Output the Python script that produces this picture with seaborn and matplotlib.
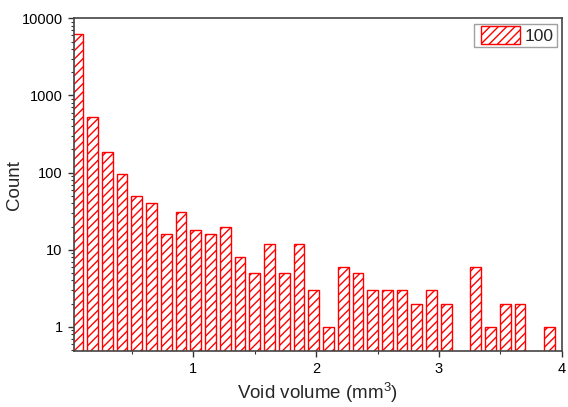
import matplotlib
matplotlib.use("Agg")
import matplotlib.pyplot as plt
import matplotlib.ticker as mticker
from matplotlib.legend_handler import HandlerPatch
from matplotlib.patches import Rectangle
import seaborn as sns
import pandas as pd

# Bin centres (mm^3) and counts
bin_centers = [0.06, 0.18, 0.30, 0.42, 0.54, 0.66, 0.78, 0.90, 1.02, 1.14,
               1.26, 1.38, 1.50, 1.62, 1.74, 1.86, 1.98, 2.10, 2.22, 2.34,
               2.46, 2.58, 2.70, 2.82, 2.94, 3.06, 3.30, 3.42, 3.54, 3.66,
               3.90]
counts = [6200, 530, 185, 95, 50, 40, 16, 31, 18, 16,
          20, 8, 5, 12, 5, 12, 3, 1, 6, 5,
          3, 3, 3, 2, 3, 2, 6, 1, 2, 2,
          1]
series_label = "100"
x_label = "Void volume (mm$^3$)"
y_label = "Count"

df = pd.DataFrame({"volume": bin_centers, "count": counts})

sns.set_style("ticks")
plt.rcParams["font.family"] = ["Liberation Sans", "DejaVu Sans"]
plt.rcParams["mathtext.fontset"] = "custom"
plt.rcParams["mathtext.rm"] = "Liberation Sans"
plt.rcParams["hatch.linewidth"] = 1.0

fig = plt.figure(figsize=(5.68, 4.07), dpi=100)
ax = fig.add_axes([0.130, 0.138, 0.859, 0.817])
ax.set_yscale("log")

sns.barplot(data=df, x="volume", y="count", native_scale=True, width=0.73,
            color="white", saturation=1, edgecolor="#ff0000", hatch="////",
            linewidth=1.0, ax=ax, label=series_label, errorbar=None)

ax.set_xlim(0.027, 4.0)
ax.set_ylim(0.49, 10000)

ax.xaxis.set_major_locator(mticker.MultipleLocator(1))
ax.xaxis.set_minor_locator(mticker.MultipleLocator(0.5))
ax.xaxis.set_major_formatter(mticker.FuncFormatter(lambda v, p: f"{v:g}"))
ax.yaxis.set_major_locator(mticker.LogLocator(base=10, numticks=10))
ax.yaxis.set_minor_locator(mticker.LogLocator(base=10, subs=range(2, 10), numticks=20))
ax.yaxis.set_major_formatter(mticker.FuncFormatter(lambda v, p: f"{v:g}"))
ax.yaxis.set_minor_formatter(mticker.NullFormatter())

ax.tick_params(axis="both", which="major", direction="out", length=4.5, width=1.0,
               labelsize=10.5, color="#333333", labelcolor="black", pad=3.5)
ax.tick_params(axis="both", which="minor", direction="out", length=2.5, width=0.8,
               color="#333333")
for s in ax.spines.values():
    s.set_visible(True)
    s.set_color("#444444")
    s.set_linewidth(1.2)

ax.set_xlabel(x_label, fontsize=13.5, labelpad=3)
ax.set_ylabel(y_label, fontsize=13.5, labelpad=-1)

handles, labels = ax.get_legend_handles_labels()
handles = [h.patches[0] if hasattr(h, "patches") else h for h in handles]
leg = ax.legend(handles, labels, loc="upper right", fontsize=12.5, frameon=True,
                fancybox=False, handlelength=2.5, handleheight=1.2, borderpad=0.15,
                handletextpad=0.3, borderaxespad=0.3,
                handler_map={Rectangle: HandlerPatch(xpad=0.25)})
leg.get_frame().set_edgecolor("#888888")
leg.get_frame().set_linewidth(1.0)

fig.savefig("out.png", dpi=100)
